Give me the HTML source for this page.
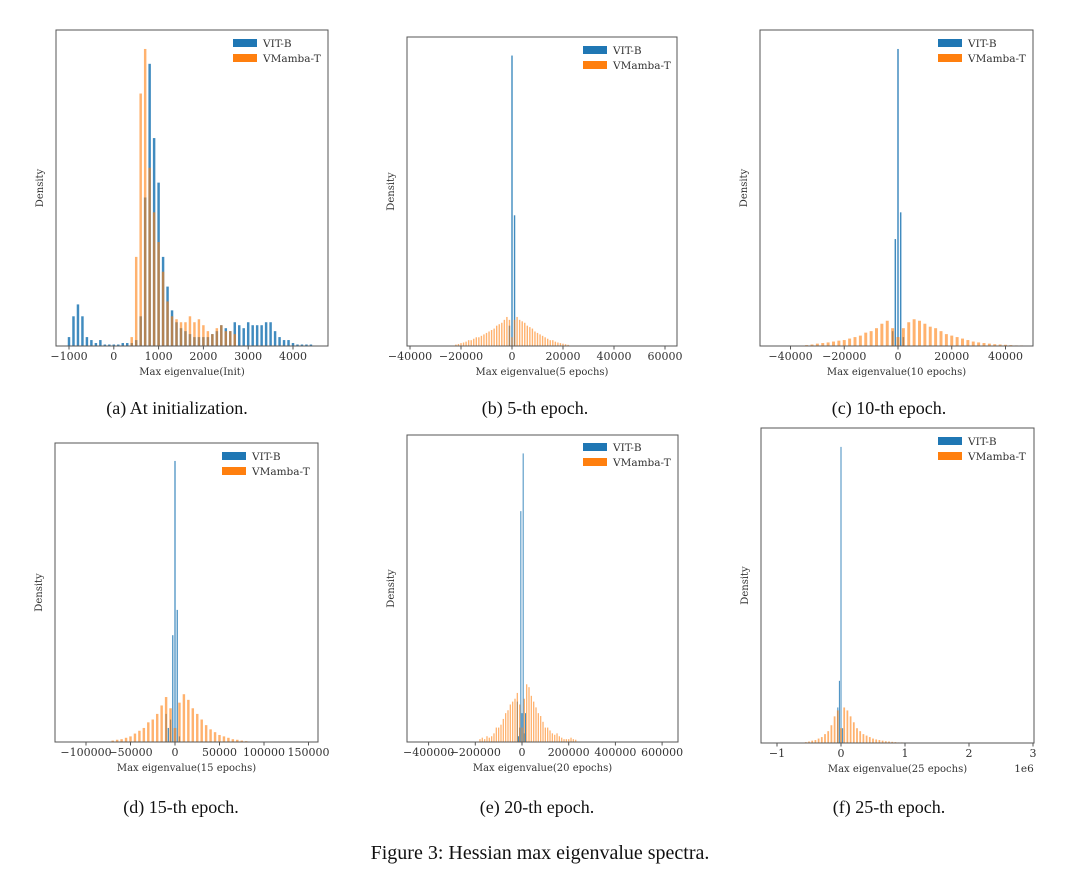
<!DOCTYPE html>
<html><head><meta charset="utf-8"><style>
html,body{margin:0;padding:0;background:#fff;}
svg{display:block;font-family:"DejaVu Serif","Liberation Serif",serif;}
</style></head><body>
<svg id="fig" width="1080" height="881" viewBox="0 0 1080 881" xmlns="http://www.w3.org/2000/svg">
<g font-family="Liberation Serif, serif" font-size="18" fill="#111" text-anchor="middle">
<text x="177" y="414">(a) At initialization.</text>
<text x="535" y="414">(b) 5-th epoch.</text>
<text x="889" y="414">(c) 10-th epoch.</text>
<text x="181" y="813">(d) 15-th epoch.</text>
<text x="537" y="813">(e) 20-th epoch.</text>
<text x="889" y="813">(f) 25-th epoch.</text>
<text x="540" y="859" font-size="20">Figure 3: Hessian max eigenvalue spectra.</text>
</g>
</svg>
<script>
// ---- data (bin start, bin step, densities relative to tallest bar) ----
const aBlueStart=-1000, aBlueStep=100;
const aBlue=[0.03,0.1,0.14,0.1,0.03,0.02,0.01,0.02,0.005,0.005,0.005,0.005,0.01,0.01,0.01,0.02,0.1,0.5,0.95,0.7,0.55,0.3,0.2,0.12,0.08,0.06,0.05,0.04,0.03,0.03,0.03,0.03,0.04,0.05,0.07,0.06,0.05,0.08,0.07,0.06,0.08,0.07,0.07,0.07,0.08,0.08,0.05,0.03,0.02,0.02,0.01,0.005,0.005,0.005,0.005];
const aOrangeStart=400, aOrangeStep=100;
const aOrange=[0.03,0.3,0.85,1.0,0.6,0.45,0.35,0.25,0.15,0.1,0.09,0.08,0.08,0.1,0.08,0.09,0.07,0.05,0.04,0.06,0.07,0.05,0.05,0.04];
const aTicks=[-1000,0,1000,2000,3000,4000];

const bBlueStart=-2000, bBlueStep=1000;
const bBlue=[0,0.07,1.0,0.45,0];
const bOrangeStart=-22000, bOrangeStep=1000;
const bOrange=[0.005,0.007,0.01,0.012,0.015,0.02,0.02,0.025,0.03,0.03,0.035,0.04,0.045,0.05,0.055,0.06,0.07,0.075,0.08,0.09,0.1,0.09,0.03,0.09,0.1,0.09,0.085,0.08,0.07,0.065,0.06,0.05,0.045,0.04,0.035,0.03,0.025,0.02,0.02,0.015,0.012,0.01,0.008,0.006,0.004];
const bTicks=[-40000,-20000,0,20000,40000,60000];

const cBlueStart=-2000, cBlueStep=1000;
const cBlue=[0.05,0.36,1.0,0.45,0.03];
const cOrangeStart=-34000, cOrangeStep=2000;
const cOrange=[0.003,0.005,0.008,0.01,0.012,0.015,0.018,0.02,0.025,0.03,0.035,0.045,0.05,0.06,0.075,0.085,0.06,0.03,0.06,0.08,0.09,0.085,0.075,0.065,0.06,0.05,0.04,0.035,0.03,0.025,0.02,0.015,0.012,0.01,0.008,0.006,0.005,0.004,0.003,0.002,0.002];
const cTicks=[-40000,-20000,0,20000,40000];

const dBlueStart=-10000, dBlueStep=2500;
const dBlue=[0.1,0.05,0.08,0.38,1.0,0.47,0.02];
const dOrangeStart=-70000, dOrangeStep=5000;
const dOrange=[0.005,0.008,0.01,0.015,0.02,0.03,0.04,0.05,0.07,0.08,0.1,0.13,0.16,0.12,0.05,0.14,0.17,0.15,0.12,0.1,0.08,0.06,0.045,0.035,0.025,0.02,0.015,0.01,0.008,0.005,0.003];
const dTicks=[-100000,-50000,0,50000,100000,150000];

const eBlueStart=-20000, eBlueStep=5000;
const eBlue=[0.14,0.02,0.05,0.8,0.1,1.0,0.03,0.1];
const eOrangeStart=-180000, eOrangeStep=10000;
const eOrange=[0.01,0.015,0.01,0.02,0.015,0.02,0.03,0.05,0.05,0.06,0.08,0.1,0.11,0.13,0.14,0.15,0.17,0.13,0.05,0.15,0.2,0.19,0.16,0.14,0.12,0.1,0.09,0.07,0.05,0.05,0.04,0.03,0.025,0.03,0.02,0.015,0.01,0.01,0.01,0.015,0.01,0.008];
const eTicks=[-400000,-200000,0,200000,400000,600000];

const fBlueStart=-50000, fBlueStep=25000;
const fBlue=[0.12,0.21,1.0,0.05];
const fOrangeStart=-550000, fOrangeStep=50000;
const fOrange=[0.003,0.005,0.008,0.01,0.015,0.02,0.03,0.04,0.06,0.09,0.11,0.05,0.12,0.11,0.09,0.07,0.05,0.04,0.03,0.025,0.02,0.015,0.012,0.01,0.008,0.006,0.005,0.004,0.003,0.002,0.002,0.001];
const fTicks=[-1000000,0,1000000,2000000,3000000];

const NS='http://www.w3.org/2000/svg';
const svg=document.getElementById('fig');
function mk(tag,attrs,parent){const e=document.createElementNS(NS,tag);for(const k in attrs)e.setAttribute(k,attrs[k]);(parent||svg).appendChild(e);return e;}
function fmt(v,div){const s=String(v/div);return s.replace('-','\u2212');}

function panel(id,box,zero,ppu,ticks,div,xlabel,blue,bStart,bStep,orange,oStart,oStep,leg){
  const g=mk('g',{});
  
  
  const xS=v=>zero+v*ppu;
  const H=(box.y1-box.y0)*0.94;
  const yS=d=>box.y1-d*H;
  const drawSeries=(vals,start,step,color,op,name)=>{
    const sg=mk('g',{},g);
    
    
    const w=Math.max(1,step*ppu*0.55);
    vals.forEach((d,i)=>{
      if(d<=0)return;
      const cx=xS(start+i*step);
      const r=mk('rect',{x:cx-w/2,y:yS(d),width:w,height:box.y1-yS(d),fill:color,'fill-opacity':op},sg);
      
      
    });
  };
  drawSeries(blue,bStart,bStep,'#1f77b4',0.85,'vit-b');
  drawSeries(orange,oStart,oStep,'#ff7f0e',0.6,'vmamba-t');
  const fr=mk('rect',{x:box.x0,y:box.y0,width:box.x1-box.x0,height:box.y1-box.y0,fill:'none',stroke:'#555','stroke-width':1},g);
  
  
  ticks.forEach(t=>{
    const x=xS(t);
    mk('line',{x1:x,x2:x,y1:box.y1,y2:box.y1+3.5,stroke:'#555','stroke-width':1},g);
    const tl=mk('text',{x:x,y:box.y1+14,'font-size':11,fill:'#333','text-anchor':'middle'},g);
    
    
    tl.textContent=fmt(t,div);
  });
  const xl=mk('text',{x:(box.x0+box.x1)/2,y:box.y1+29,'font-size':10,fill:'#333','text-anchor':'middle'},g);
  
  
  xl.textContent=xlabel;
  const cy=(box.y0+box.y1)/2;
  const yl=mk('text',{x:box.x0-13,y:cy,'font-size':10,fill:'#333','text-anchor':'middle',transform:`rotate(-90 ${box.x0-13} ${cy})`},g);
  
  
  yl.textContent='Density';
  if(div!==1){const ex=mk('text',{x:box.x1-10,y:box.y1+29,'font-size':10.5,fill:'#333','text-anchor':'middle'},g);
    
    
    ex.textContent='1e6';}
  [['#1f77b4','VIT-B'],['#ff7f0e','VMamba-T']].forEach((s,i)=>{
    const ly=leg.y+i*15;
    const p=mk('rect',{x:leg.x,y:ly-4,width:24,height:8,fill:s[0]},g);
    
    
    const lt=mk('text',{x:leg.x+30,y:ly+4,'font-size':10.5,fill:'#333'},g);
    
    
    lt.textContent=s[1];
  });
}
panel('a',{x0:56,x1:328,y0:30,y1:346},113.8,44.8/1000,aTicks,1,'Max eigenvalue(Init)',aBlue,aBlueStart,aBlueStep,aOrange,aOrangeStart,aOrangeStep,{x:233,y:43});
panel('b',{x0:407,x1:677,y0:37,y1:346},512,51/20000,bTicks,1,'Max eigenvalue(5 epochs)',bBlue,bBlueStart,bBlueStep,bOrange,bOrangeStart,bOrangeStep,{x:583,y:50});
panel('c',{x0:760,x1:1033,y0:30,y1:346},898,53.75/20000,cTicks,1,'Max eigenvalue(10 epochs)',cBlue,cBlueStart,cBlueStep,cOrange,cOrangeStart,cOrangeStep,{x:938,y:43});
panel('d',{x0:55,x1:318,y0:443,y1:742},175,44.5/50000,dTicks,1,'Max eigenvalue(15 epochs)',dBlue,dBlueStart,dBlueStep,dOrange,dOrangeStart,dOrangeStep,{x:222,y:456});
panel('e',{x0:407,x1:678,y0:435,y1:742},522,46.7/200000,eTicks,1,'Max eigenvalue(20 epochs)',eBlue,eBlueStart,eBlueStep,eOrange,eOrangeStart,eOrangeStep,{x:583,y:447});
panel('f',{x0:761,x1:1034,y0:428,y1:743},841,64/1000000,fTicks,1000000,'Max eigenvalue(25 epochs)',fBlue,fBlueStart,fBlueStep,fOrange,fOrangeStart,fOrangeStep,{x:938,y:441});
</script>
</body></html>
